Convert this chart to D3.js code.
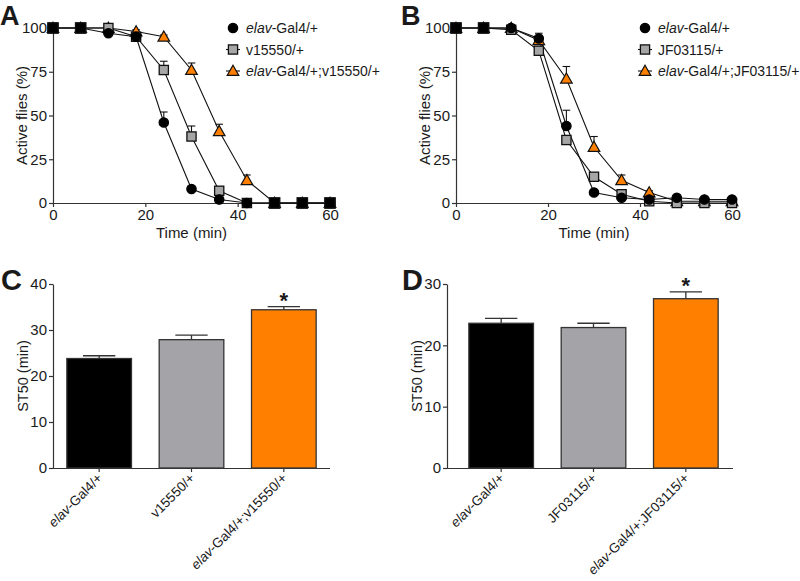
<!DOCTYPE html>
<html><head><meta charset="utf-8">
<script src="https://cdn.jsdelivr.net/npm/d3@7"></script>
<style>
body{margin:0;background:#fff;}
text{font-family:"Liberation Sans",Arial,sans-serif;fill:#1a1a1a;}
</style></head>
<body><svg id="c" width="800" height="581"></svg>
<script>
// ---------- data ----------
const times = [0,6,12,18,24,30,36,42,48,54,60];
const xTicks = [0,20,40,60];
const yTicksLine = [0,25,50,75,100];

// Panel A
const aNames = ["elav-Gal4/+","v15550/+","elav-Gal4/+;v15550/+"];
const aCircle   = [100,100,97,95,46,8,2,0,0,0,0];
const aSquare   = [100,100,100,95,76,38,7,0,0,0,0];
const aTriangle = [100,100,100,98,95,76,41,13,0,0,0];
const aCircleErr   = [0,0,1,1,6,1.5,1,0,0,0,0];
const aSquareErr   = [0,0,0,1,5,6,2,0,0,0,0];
const aTriangleErr = [0,0,0,1,1,4,4,3,0,0,0];

// Panel B
const bNames = ["elav-Gal4/+","JF03115/+","elav-Gal4/+;JF03115/+"];
const bCircle   = [100,100,100,94,44,6,3,2,3,2,2];
const bSquare   = [100,100,99,87,36,15,5,1,0,0,0];
const bTriangle = [100,100,100,93,71,32,13,6,1,1,1];
const bCircleErr   = [0,0,0,3,9,1,1,0,1,0,0];
const bSquareErr   = [0,0,0,2,2,1,1,0,0,0,0];
const bTriangleErr = [0,0,0,2,7,6,3,1,0,0,0];

// Panel C
const cCats = ["elav-Gal4/+","v15550/+","elav-Gal4/+;v15550/+"];
const cVals = [23.8,27.9,34.4];
const cErr  = [0.6,1.0,0.7];
const cTicks = [0,10,20,30,40];

// Panel D
const dCats = ["elav-Gal4/+","JF03115/+","elav-Gal4/+;JF03115/+"];
const dVals = [23.6,22.9,27.6];
const dErr  = [0.8,0.7,1.1];
const dTicks = [0,10,20,30];

const sig = ["","","*"];
const barColors = ["#000000","#a4a4a8","#ff8000"];
const markerFill = {circle:"#000000",square:"#a6a6a6",triangle:"#ff8000"};

// ---------- drawing ----------
const svg = d3.select("#c");
const axisCol = "#333";

function labelWithItalic(sel, name){
  if(name.startsWith("elav")){
    sel.append("tspan").attr("font-style","italic").text("elav");
    sel.append("tspan").text(name.slice(4));
  } else sel.text(name);
}

function styleAxis(g){
  g.selectAll("path.domain").attr("stroke",axisCol).attr("stroke-width",1.2);
  g.selectAll(".tick line").attr("stroke",axisCol).attr("stroke-width",1.2);
  g.selectAll(".tick text").attr("font-size",15).attr("fill","#1a1a1a")
    .attr("font-family","Liberation Sans, Arial, sans-serif");
}

function marker(g, type, x, y, fill, big){
  if(type==="circle"){
    g.append("circle").attr("cx",x).attr("cy",y).attr("r",4.7)
     .attr("fill",fill).attr("stroke","#000").attr("stroke-width",1.2);
  } else if(type==="square"){
    const h = big ? 5.2 : 4.6;
    g.append("rect").attr("x",x-h).attr("y",y-h).attr("width",2*h).attr("height",2*h)
     .attr("fill",fill).attr("stroke","#111").attr("stroke-width",1.3);
  } else {
    const s=5.8;
    g.append("path").attr("d",`M${x},${y-s}L${x+s},${y+s*0.75}L${x-s},${y+s*0.75}Z`)
     .attr("fill",fill).attr("stroke","#111").attr("stroke-width",1.2);
  }
}

function linePanel(opt){
  const x = d3.scaleLinear().domain([0,60]).range(opt.xr);
  const y = d3.scaleLinear().domain([0,100]).range([203,28]);
  const g = svg.append("g");
  const xa = g.append("g").attr("transform",`translate(0,203)`)
    .call(d3.axisBottom(x).tickValues(xTicks).tickSize(4).tickSizeOuter(0).tickPadding(2));
  styleAxis(xa);
  const ya = g.append("g").attr("transform",`translate(${opt.xr[0]},0)`)
    .call(d3.axisLeft(y).tickValues(yTicksLine).tickSize(4).tickSizeOuter(0).tickPadding(2));
  styleAxis(ya);
  g.append("text").attr("x",(opt.xr[0]+opt.xr[1])/2).attr("y",238)
    .attr("text-anchor","middle").attr("font-size",15).text("Time (min)");
  g.append("text").attr("transform",`translate(${opt.xr[0]-26},${(28+203)/2}) rotate(-90)`)
    .attr("text-anchor","middle").attr("font-size",15).text("Active flies (%)");
  g.append("text").attr("x",opt.letterX).attr("y",25).attr("font-size",27)
    .attr("font-weight","bold").attr("fill","#000").text(opt.letter);

  const series = [
    {type:"triangle",vals:opt.tri,err:opt.triErr},
    {type:"square",vals:opt.sq,err:opt.sqErr},
    {type:"circle",vals:opt.cir,err:opt.cirErr}
  ];
  const line = d3.line().x((d,i)=>x(times[i])).y(d=>y(d));
  series.forEach(s=>{
    g.append("path").datum(s.vals).attr("d",line).attr("fill","none")
      .attr("stroke","#111").attr("stroke-width",1.1);
  });
  series.forEach(s=>{
    s.vals.forEach((v,i)=>{
      if(s.err[i]>0){
        const xx=x(times[i]), y0=y(v), y1=y(v+s.err[i]);
        g.append("line").attr("x1",xx).attr("x2",xx).attr("y1",y0).attr("y2",y1)
          .attr("stroke","#111").attr("stroke-width",1.1);
        g.append("line").attr("x1",xx-3.8).attr("x2",xx+3.8).attr("y1",y1).attr("y2",y1)
          .attr("stroke","#111").attr("stroke-width",1.1);
      }
    });
  });
  series.forEach(s=>{
    s.vals.forEach((v,i)=>marker(g,s.type,x(times[i]),y(v),markerFill[s.type]));
  });
  // points where all three overlap render as solid black squares
  times.forEach((t,i)=>{
    if(opt.cir[i]===opt.sq[i] && opt.sq[i]===opt.tri[i])
      marker(g,"square",x(t),y(opt.sq[i]),"#000",true);
  });
  // legend
  const leg = [{type:"circle",name:opt.names[0]},{type:"square",name:opt.names[1]},{type:"triangle",name:opt.names[2]}];
  leg.forEach((l,i)=>{
    const ly = 28 + i*21.5;
    if(l.type!=="circle")
      g.append("line").attr("x1",opt.legX-7).attr("x2",opt.legX+7).attr("y1",ly).attr("y2",ly)
        .attr("stroke","#111").attr("stroke-width",1.1);
    marker(g,l.type,opt.legX,ly,markerFill[l.type]);
    const t = g.append("text").attr("x",opt.legX+13).attr("y",ly+5).attr("font-size",14);
    labelWithItalic(t,l.name);
  });
}

linePanel({xr:[53,330],letter:"A",letterX:0,legX:233,names:aNames,
  cir:aCircle,sq:aSquare,tri:aTriangle,cirErr:aCircleErr,sqErr:aSquareErr,triErr:aTriangleErr});
linePanel({xr:[456,732],letter:"B",letterX:401,legX:645,names:bNames,
  cir:bCircle,sq:bSquare,tri:bTriangle,cirErr:bCircleErr,sqErr:bSquareErr,triErr:bTriangleErr});

function barPanel(opt){
  const x = d3.scaleBand().domain(opt.cats).range(opt.bandR).paddingInner(0.3).paddingOuter(0.15);
  const y = d3.scaleLinear().domain([0,opt.max]).range([468,284]);
  const g = svg.append("g");
  g.append("text").attr("x",opt.letterX).attr("y",290).attr("font-size",29)
    .attr("font-weight","bold").attr("fill","#000").text(opt.letter);
  g.append("text").attr("transform",`translate(${opt.axisX-25},376) rotate(-90)`)
    .attr("text-anchor","middle").attr("font-size",14.5).text("ST50 (min)");
  opt.cats.forEach((c,i)=>{
    const bx=x(c), bw=x.bandwidth(), cx=bx+bw/2;
    const top=y(opt.vals[i]), et=y(opt.vals[i]+opt.err[i]);
    g.append("line").attr("x1",cx).attr("x2",cx).attr("y1",top).attr("y2",et)
      .attr("stroke","#333").attr("stroke-width",1.3);
    g.append("line").attr("x1",cx-bw/4).attr("x2",cx+bw/4).attr("y1",et).attr("y2",et)
      .attr("stroke","#333").attr("stroke-width",1.3);
    g.append("rect").attr("x",bx).attr("y",top).attr("width",bw).attr("height",468-top)
      .attr("fill",barColors[i]).attr("stroke","#333").attr("stroke-width",1.3);
    if(sig[i]) g.append("text").attr("x",cx).attr("y",et+1).attr("text-anchor","middle")
      .attr("font-size",22).attr("font-weight","bold").attr("fill","#111").text(sig[i]);
  });
  const xa = g.append("g").attr("transform","translate(0,468)")
    .call(d3.axisBottom(x).tickSize(4).tickSizeOuter(0).tickFormat(""));
  xa.select("path.domain").attr("d",`M${opt.axisX},0.5H${opt.axisEnd}`);
  styleAxis(xa);
  opt.cats.forEach((c,i)=>{
    const cx=x(c)+x.bandwidth()/2;
    const t=g.append("text").attr("transform",`translate(${cx+4},${479}) rotate(-45)`)
      .attr("text-anchor","end").attr("font-size",13.5);
    labelWithItalic(t,c);
  });
  const ya = g.append("g").attr("transform",`translate(${opt.axisX},0)`)
    .call(d3.axisLeft(y).tickValues(opt.ticks).tickSize(4).tickSizeOuter(0).tickPadding(2));
  styleAxis(ya);
}

barPanel({cats:cCats,vals:cVals,err:cErr,ticks:cTicks,max:40,bandR:[53,330],axisX:53,axisEnd:330,letter:"C",letterX:1});
barPanel({cats:dCats,vals:dVals,err:dErr,ticks:dTicks,max:30,bandR:[455,732],axisX:447,axisEnd:733,letter:"D",letterX:402});
</script></body></html>
